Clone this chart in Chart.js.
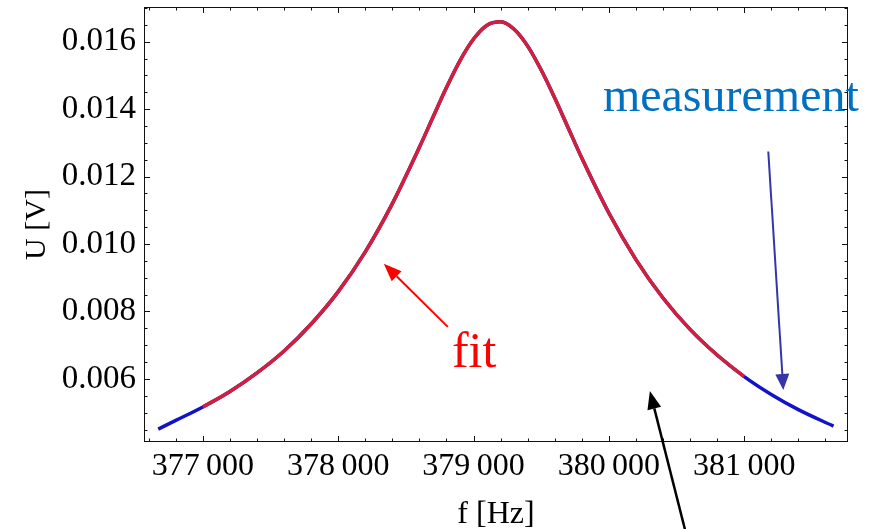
<!DOCTYPE html>
<html>
<head>
<meta charset="utf-8">
<script src="https://cdn.jsdelivr.net/npm/chart.js@4"></script>
<style>
  html, body { margin: 0; padding: 0; background: #fff; }
  canvas { display: block; }
</style>
</head>
<body>
<canvas id="chart" width="877" height="529"></canvas>
<script>
// resonance curve: measured amplitude and the fitted curve
const measFreq = [376670, 376800, 377000, 377200, 377400, 377600, 377800, 378000, 378200, 378400,
    378600, 378700, 378800, 378900, 379000, 379100, 379200, 379300, 379400, 379500, 379600,
    379700, 379800, 380000, 380200, 380400, 380600, 380800, 381000, 381200, 381400, 381660];
const measU = [0.00451, 0.00477, 0.00517, 0.00563, 0.00618, 0.00683, 0.00763, 0.00859, 0.00977, 0.01120,
    0.01287, 0.01376, 0.01464, 0.01544, 0.01608, 0.01649, 0.01659, 0.01637, 0.01587, 0.01516, 0.01433,
    0.01344, 0.01255, 0.01092, 0.00954, 0.00840, 0.00747, 0.00671, 0.00607, 0.00554, 0.00509, 0.00460];

const fitFreq = [377000, 377200, 377400, 377600, 377800, 378000, 378200, 378400, 378600, 378700,
    378800, 378900, 379000, 379100, 379200, 379300, 379400, 379500, 379600, 379700, 379800,
    380000, 380200, 380400, 380600, 380800, 381000];
const fitU = [0.00517, 0.00563, 0.00618, 0.00683, 0.00763, 0.00859, 0.00977, 0.01120, 0.01287, 0.01376,
    0.01464, 0.01544, 0.01608, 0.01649, 0.01659, 0.01637, 0.01587, 0.01516, 0.01433, 0.01344, 0.01255,
    0.01092, 0.00954, 0.00840, 0.00747, 0.00671, 0.00607];

// axis ticks (labelled ones), minor ticks are subdivisions
const xMajor = [377000, 378000, 379000, 380000, 381000];
const yMajor = [0.006, 0.008, 0.010, 0.012, 0.014, 0.016];
const xRange = [376565, 381767];
const yRange = [0.00413, 0.01703];

const serif = '"Liberation Serif", "DejaVu Serif", serif';

function toPoints(xs, ys) {
    return xs.map((x, i) => ({ x: x, y: ys[i] }));
}

function subTicks(majors, parts, lo, hi) {
    const step = (majors[1] - majors[0]) / parts;
    const out = [];
    for (let v = majors[0] - step * parts * 2; v <= hi + 1e-12; v += step) {
        if (v >= lo - 1e-12) out.push(v);
    }
    return out;
}

function isMajor(v, majors) {
    return majors.some(m => Math.abs(m - v) < 1e-9 * Math.max(1, Math.abs(m)));
}

function drawArrow(ctx, x1, y1, x2, y2, color, width, headLen, headW) {
    const a = Math.atan2(y2 - y1, x2 - x1);
    const bx = x2 - headLen * Math.cos(a), by = y2 - headLen * Math.sin(a);
    ctx.save();
    ctx.strokeStyle = color;
    ctx.fillStyle = color;
    ctx.lineWidth = width;
    ctx.beginPath();
    ctx.moveTo(x1, y1);
    ctx.lineTo(bx, by);
    ctx.stroke();
    ctx.beginPath();
    ctx.moveTo(x2, y2);
    ctx.lineTo(bx + headW / 2 * Math.sin(a), by - headW / 2 * Math.cos(a));
    ctx.lineTo(bx - headW / 2 * Math.sin(a), by + headW / 2 * Math.cos(a));
    ctx.closePath();
    ctx.fill();
    ctx.restore();
}

// labels and arrows, positioned in data units
const notes = {
    fit: { text: 'fit', f: 378840, u: 0.00636, color: '#ff0000', size: 50 },
    meas: { text: 'measurement', f: 379956, u: 0.01394, color: '#0070c0', size: 48 },
    arrows: [
        { from: [378810, 0.007545], to: [378337, 0.009418], color: '#ff0000', width: 2, head: 18, hw: 14 },
        { from: [381178, 0.012746], to: [381289, 0.005673], color: '#3535a8', width: 2, head: 16, hw: 14 },
        { from: [380562, 0.001542], to: [380303, 0.005643], color: '#000000', width: 2.5, head: 18, hw: 14 }
    ]
};

const framePlugin = {
    id: 'frame',
    afterDraw(chart) {
        const ctx = chart.ctx;
        const a = chart.chartArea;
        const xs = chart.scales.x, ys = chart.scales.y;
        ctx.save();
        ctx.strokeStyle = '#111';
        ctx.lineWidth = 1;
        ctx.strokeRect(a.left + 0.5, a.top + 0.5, a.right - a.left - 1, a.bottom - a.top - 1);
        ctx.beginPath();
        subTicks(xMajor, 5, xRange[0], xRange[1]).forEach(v => {
            const px = Math.round(xs.getPixelForValue(v)) + 0.5;
            const len = isMajor(v, xMajor) ? 6 : 3.5;
            ctx.moveTo(px, a.bottom); ctx.lineTo(px, a.bottom - len);
            ctx.moveTo(px, a.top); ctx.lineTo(px, a.top + len);
        });
        subTicks(yMajor, 4, yRange[0], yRange[1]).forEach(v => {
            const py = Math.round(ys.getPixelForValue(v)) + 0.5;
            const len = isMajor(v, yMajor) ? 6 : 3.5;
            ctx.moveTo(a.left, py); ctx.lineTo(a.left + len, py);
            ctx.moveTo(a.right, py); ctx.lineTo(a.right - len, py);
        });
        ctx.stroke();

        notes.arrows.forEach(n => {
            drawArrow(ctx,
                xs.getPixelForValue(n.from[0]), ys.getPixelForValue(n.from[1]),
                xs.getPixelForValue(n.to[0]), ys.getPixelForValue(n.to[1]),
                n.color, n.width, n.head, n.hw);
        });
        [notes.fit, notes.meas].forEach(n => {
            ctx.font = n.size + 'px ' + serif;
            ctx.fillStyle = n.color;
            ctx.textAlign = 'left';
            ctx.textBaseline = 'alphabetic';
            ctx.fillText(n.text, xs.getPixelForValue(n.f), ys.getPixelForValue(n.u));
        });
        ctx.restore();
    }
};

new Chart(document.getElementById('chart'), {
    type: 'scatter',
    data: {
        datasets: [
            {
                label: 'fit',
                data: toPoints(fitFreq, fitU),
                showLine: true,
                borderColor: '#d3203a',
                borderWidth: 3.5,
                pointRadius: 0,
                cubicInterpolationMode: 'monotone'
            },
            {
                label: 'measurement',
                data: toPoints(measFreq, measU),
                showLine: true,
                borderColor: '#1212c8',
                borderWidth: 3.5,
                pointRadius: 0,
                cubicInterpolationMode: 'monotone'
            }
        ]
    },
    options: {
        responsive: false,
        animation: false,
        devicePixelRatio: 1,
        layout: { padding: { top: 7, right: 29, left: 0, bottom: 0 } },
        plugins: { legend: { display: false }, tooltip: { enabled: false } },
        scales: {
            x: {
                type: 'linear',
                min: xRange[0],
                max: xRange[1],
                afterFit(scale) {
                    scale.height = 87;
                    scale.paddingLeft = 0;
                    scale.paddingRight = 0;
                },
                afterBuildTicks(scale) {
                    scale.ticks = xMajor.map(v => ({ value: v }));
                },
                grid: { display: false, drawTicks: false },
                border: { display: false },
                ticks: {
                    autoSkip: false,
                    maxRotation: 0,
                    padding: 5,
                    color: '#000',
                    font: { family: serif, size: 32 },
                    callback: v => String(v).replace(/(\d{3})$/, '\u2009$1')
                },
                title: {
                    display: true,
                    text: 'f [Hz]',
                    color: '#000',
                    font: { family: serif, size: 32, lineHeight: 0.9 },
                    padding: { top: 0, bottom: 0 }
                }
            },
            y: {
                type: 'linear',
                min: yRange[0],
                max: yRange[1],
                afterFit(scale) {
                    scale.width = 144;
                    scale.paddingTop = 0;
                    scale.paddingBottom = 0;
                },
                afterBuildTicks(scale) {
                    scale.ticks = yMajor.map(v => ({ value: v }));
                },
                grid: { display: false, drawTicks: false },
                border: { display: false },
                ticks: {
                    autoSkip: false,
                    padding: 8,
                    color: '#000',
                    font: { family: serif, size: 33 },
                    callback: v => v.toFixed(3)
                },
                title: {
                    display: true,
                    text: 'U [V]',
                    color: '#000',
                    font: { family: serif, size: 30 },
                    padding: { top: 19, bottom: 0 }
                }
            }
        }
    },
    plugins: [framePlugin]
});
</script>
</body>
</html>
